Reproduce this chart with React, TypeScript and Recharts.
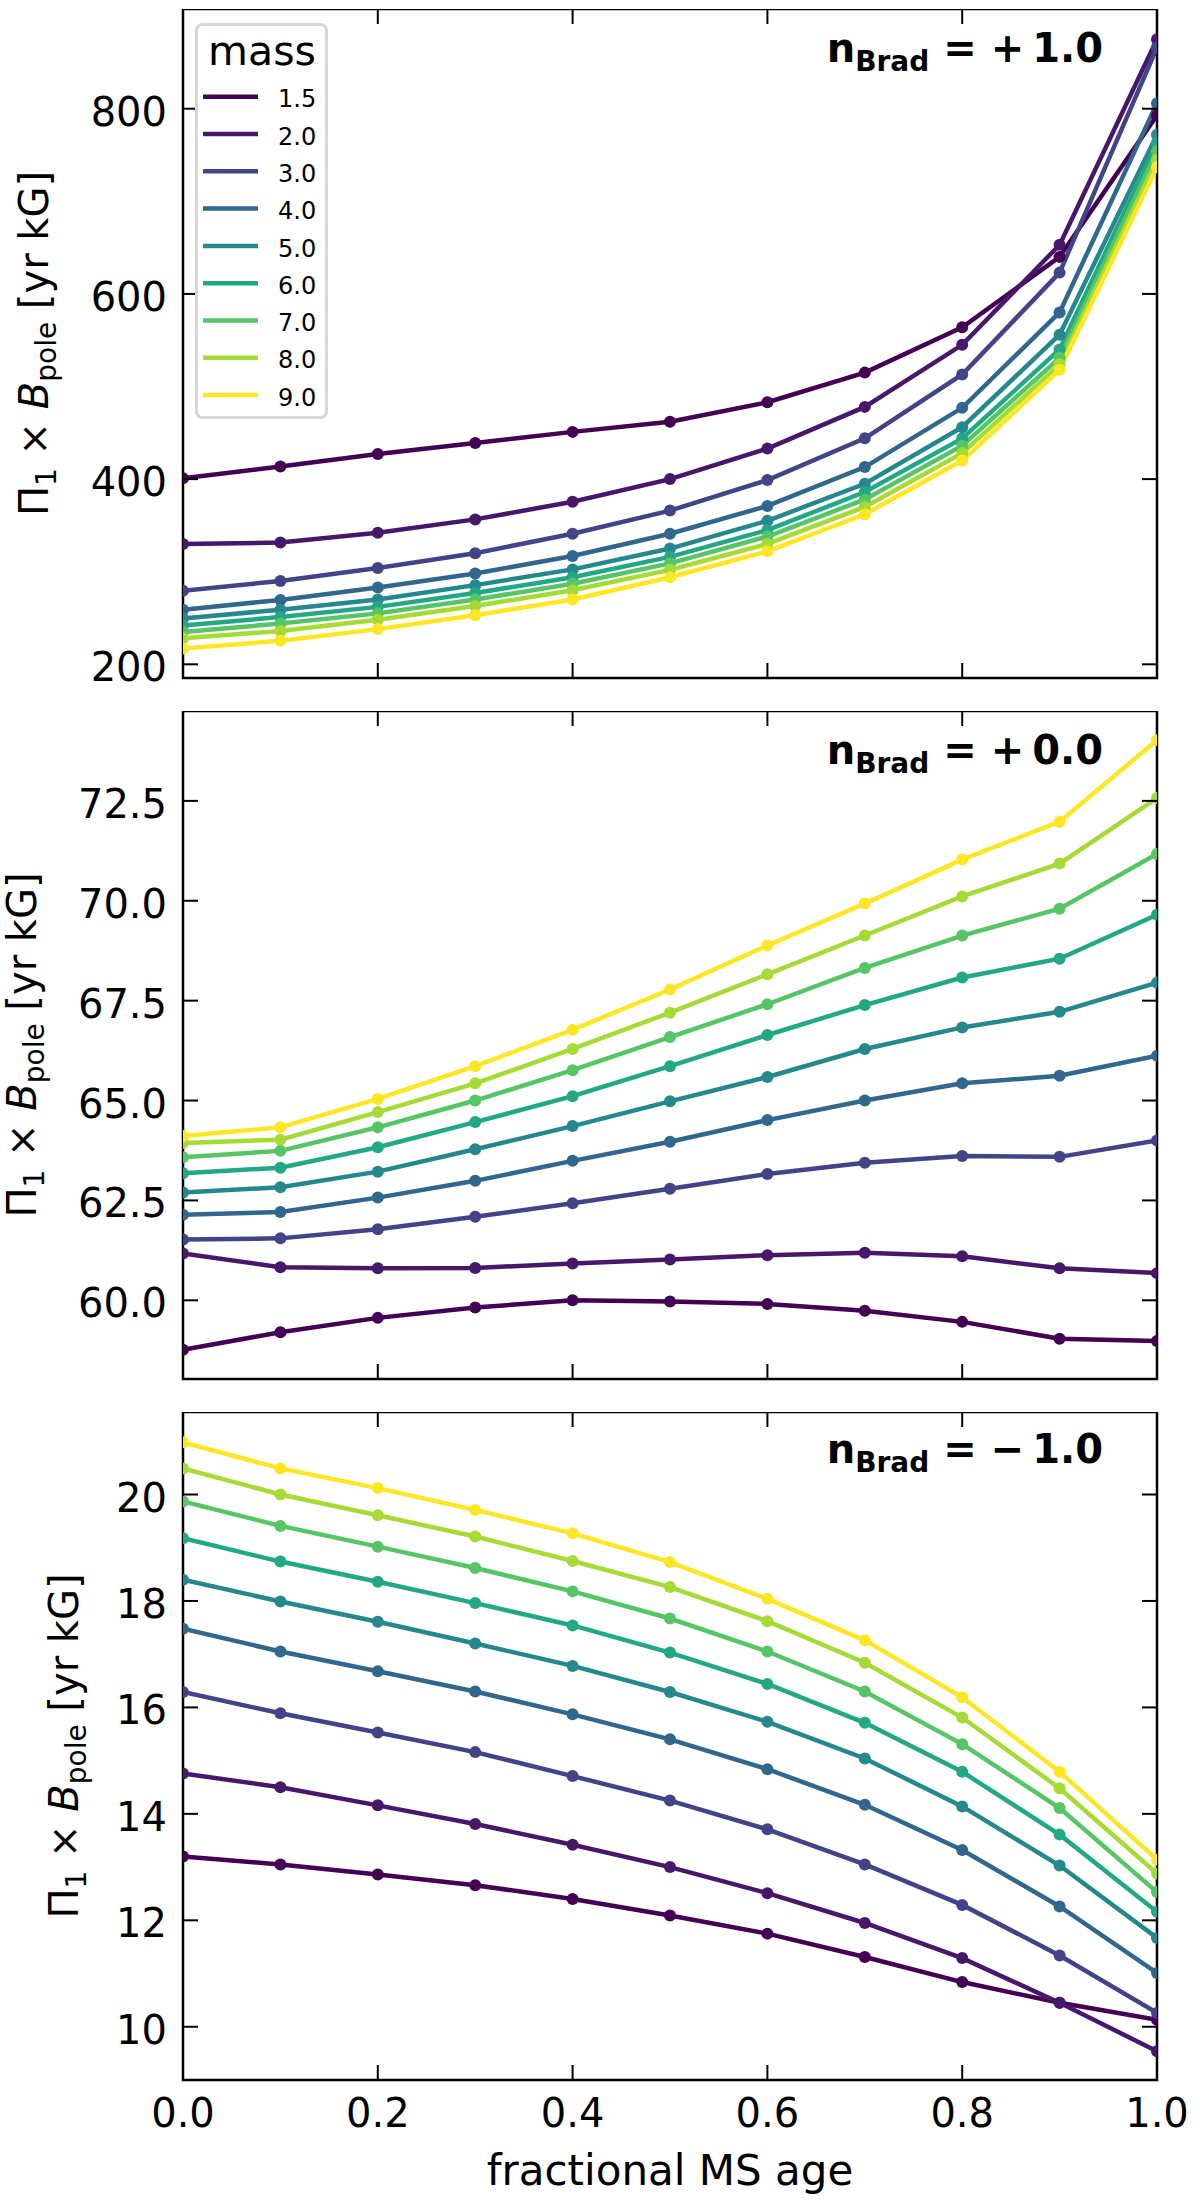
import React from "react";
import { LineChart, Line, XAxis, YAxis, ReferenceArea, Legend } from "recharts";

const FONT = "'DejaVu Sans', 'Liberation Sans', sans-serif";

// fractional MS age (x)
const AGES = [0, 0.1, 0.2, 0.3, 0.4, 0.5, 0.6, 0.7, 0.8, 0.9, 1.0];
const X_TICKS = [0, 0.2, 0.4, 0.6, 0.8, 1.0];

// stellar masses and their viridis colours
const MASSES = ["1.5", "2.0", "3.0", "4.0", "5.0", "6.0", "7.0", "8.0", "9.0"];
const MASS_COLORS = [
  "#440154",
  "#47186a",
  "#414487",
  "#31678d",
  "#24888d",
  "#22a884",
  "#56c566",
  "#a6da35",
  "#fde725",
];

// n_Brad = +1.0
const POS_VALUES = [
  [401, 413.5, 427, 439, 451, 462, 483, 515, 564, 640, 793],
  [330, 331.5, 342, 356.5, 375.5, 400, 433, 478, 545, 653, 875],
  [279.5, 290, 304, 320, 341, 366, 399, 444, 513, 623, 866],
  [259, 269.5, 283, 298, 317, 341, 371, 413, 477, 580, 806],
  [249.5, 259, 270, 285.5, 302.5, 325, 355, 395, 456, 556, 772],
  [242, 251, 262, 277, 294, 316, 345, 386, 444, 540, 763],
  [235, 244, 255, 270, 287, 309, 338, 378, 436, 531, 754],
  [228, 236, 248, 263, 280, 302, 330, 370, 428, 524, 745],
  [217, 225.5, 238, 253, 270, 294, 322, 362, 420, 518, 737],
];
const POS_DOMAIN: [number, number] = [185.2, 907.7];
const POS_Y_TICKS = [200, 400, 600, 800];

// n_Brad = +0.0
const ZERO_VALUES = [
  [58.76, 59.2, 59.56, 59.82, 60.0, 59.97, 59.91, 59.74, 59.46, 59.04, 58.98],
  [61.17, 60.83, 60.8, 60.81, 60.92, 61.02, 61.13, 61.19, 61.1, 60.8, 60.68],
  [61.52, 61.55, 61.78, 62.09, 62.43, 62.79, 63.16, 63.44, 63.61, 63.59, 64.0],
  [62.14, 62.21, 62.57, 62.99, 63.49, 63.97, 64.51, 65.0, 65.43, 65.62, 66.12],
  [62.7, 62.83, 63.22, 63.78, 64.36, 64.98, 65.59, 66.29, 66.83, 67.22, 67.95],
  [63.18, 63.32, 63.83, 64.46, 65.11, 65.86, 66.64, 67.39, 68.08, 68.55, 69.65],
  [63.58, 63.74, 64.33, 65.0, 65.76, 66.59, 67.41, 68.32, 69.13, 69.8, 71.17],
  [63.94, 64.02, 64.71, 65.43, 66.29, 67.2, 68.16, 69.13, 70.11, 70.93, 72.57],
  [64.11, 64.33, 65.04, 65.86, 66.77, 67.78, 68.88, 69.93, 71.03, 71.98, 74.02],
];
const ZERO_DOMAIN: [number, number] = [58.03, 74.75];
const ZERO_Y_TICKS = [60, 62.5, 65, 67.5, 70, 72.5];

// n_Brad = -1.0
const NEG_VALUES = [
  [13.2, 13.05, 12.86, 12.66, 12.4, 12.09, 11.75, 11.31, 10.84, 10.45, 10.13],
  [14.76, 14.5, 14.16, 13.81, 13.42, 13.0, 12.51, 11.95, 11.29, 10.45, 9.54],
  [16.29, 15.89, 15.53, 15.16, 14.71, 14.25, 13.71, 13.05, 12.29, 11.34, 10.26],
  [17.48, 17.05, 16.68, 16.3, 15.87, 15.4, 14.84, 14.17, 13.32, 12.26, 11.01],
  [18.4, 17.99, 17.61, 17.2, 16.78, 16.29, 15.73, 15.04, 14.14, 13.03, 11.67],
  [19.18, 18.74, 18.36, 17.96, 17.54, 17.03, 16.44, 15.71, 14.79, 13.61, 12.16],
  [19.87, 19.41, 19.02, 18.62, 18.18, 17.67, 17.05, 16.3, 15.31, 14.11, 12.53],
  [20.49, 20.0, 19.61, 19.21, 18.75, 18.26, 17.62, 16.84, 15.81, 14.48, 12.88],
  [20.98, 20.49, 20.12, 19.71, 19.27, 18.73, 18.04, 17.26, 16.19, 14.79, 13.14],
];
const NEG_DOMAIN: [number, number] = [9.0, 21.55];
const NEG_Y_TICKS = [10, 12, 14, 16, 18, 20];

const PLOT_LEFT = 183;
const PLOT_RIGHT = 1157;
const PLOT_W = PLOT_RIGHT - PLOT_LEFT;
const X_AXIS_H = 80;

function buildRows(series: number[][]) {
  return AGES.map((x, i) => {
    const row: Record<string, number> = { x };
    series.forEach((s, k) => {
      row[`m${k}`] = s[i];
    });
    return row;
  });
}

function renderLegend(props: any) {
  const payload = props.payload || [];
  return (
    <svg width={133} height={396} style={{ display: "block" }}>
      <rect
        x={1.5}
        y={1.5}
        width={130}
        height={393}
        rx={6}
        fill="rgba(255,255,255,0.8)"
        stroke="#d6d6d6"
        strokeWidth={3}
      />
      <text x={67} y={42} textAnchor="middle" fontSize={41} fontFamily={FONT} fill="#000">
        mass
      </text>
      {payload.map((p: any, i: number) => (
        <g key={p.value}>
          <line
            x1={8}
            x2={63}
            y1={73.7 + i * 37.3}
            y2={73.7 + i * 37.3}
            stroke={p.color}
            strokeWidth={4.5}
          />
          <text x={83} y={84.3 + i * 37.3} fontSize={24} fontFamily={FONT} fill="#000">
            {p.value}
          </text>
        </g>
      ))}
    </svg>
  );
}

interface PanelProps {
  top: number;
  height: number;
  series: number[][];
  domain: [number, number];
  yTicks: number[];
  yFmt: (v: number) => string;
  showXLabels?: boolean;
  showLegend?: boolean;
}

function Panel({ top, height, series, domain, yTicks, yFmt, showXLabels, showLegend }: PanelProps) {
  const rows = buildRows(series);

  const yTick = (props: any) => {
    const { x, y, payload } = props;
    return (
      <g>
        <line x1={x} x2={x + 15} y1={y} y2={y} stroke="#000" strokeWidth={2} />
        <line x1={x + PLOT_W} x2={x + PLOT_W - 15} y1={y} y2={y} stroke="#000" strokeWidth={2} />
        <text x={x - 16} y={y + 17} textAnchor="end" fontSize={40} fontFamily={FONT} fill="#000">
          {yFmt(payload.value)}
        </text>
      </g>
    );
  };

  const xTick = (props: any) => {
    const { x, y, payload } = props;
    return (
      <g>
        <line x1={x} x2={x} y1={y} y2={y - 15} stroke="#000" strokeWidth={2} />
        <line x1={x} x2={x} y1={y - height} y2={y - height + 15} stroke="#000" strokeWidth={2} />
        {showXLabels && (
          <text x={x} y={y + 47} textAnchor="middle" fontSize={40} fontFamily={FONT} fill="#000">
            {Number(payload.value).toFixed(1)}
          </text>
        )}
      </g>
    );
  };

  return (
    <div style={{ position: "absolute", left: 0, top }}>
      <LineChart
        width={1200}
        height={height + X_AXIS_H}
        data={rows}
        margin={{ top: 0, right: 1200 - PLOT_RIGHT, bottom: 0, left: 0 }}
      >
        <XAxis
          dataKey="x"
          type="number"
          domain={[0, 1]}
          ticks={X_TICKS}
          allowDataOverflow
          interval={0}
          tickSize={0}
          tickMargin={0}
          tickLine={false}
          axisLine={false}
          tick={xTick}
          height={X_AXIS_H}
        />
        <YAxis
          type="number"
          domain={domain}
          ticks={yTicks}
          allowDataOverflow
          interval={0}
          tickSize={0}
          tickMargin={0}
          tickLine={false}
          axisLine={false}
          tick={yTick}
          width={PLOT_LEFT}
        />
        {MASSES.map((m, k) => (
          <Line
            key={m}
            type="linear"
            dataKey={`m${k}`}
            name={m}
            stroke={MASS_COLORS[k]}
            strokeWidth={4.5}
            dot={{ r: 6, fill: MASS_COLORS[k], stroke: "none" }}
            activeDot={false}
            isAnimationActive={false}
          />
        ))}
        <ReferenceArea
          x1={0}
          x2={1}
          y1={domain[0]}
          y2={domain[1]}
          fill="none"
          fillOpacity={0}
          stroke="#000"
          strokeWidth={2.5}
          ifOverflow="visible"
        />
        {showLegend && (
          <Legend
            layout="vertical"
            align="center"
            verticalAlign="middle"
            content={renderLegend}
            wrapperStyle={{ left: 195, top: 14, width: 133, height: 396 }}
          />
        )}
      </LineChart>
    </div>
  );
}

function YLabel({ x, y }: { x: number; y: number }) {
  return (
    <text
      transform={`translate(${x},${y}) rotate(-90)`}
      textAnchor="middle"
      fontSize={40}
      fontFamily={FONT}
      fill="#000"
    >
      Π
      <tspan dy={8} fontSize={28}>
        1
      </tspan>
      <tspan dy={-8}> × </tspan>
      <tspan fontStyle="italic">B</tspan>
      <tspan dy={8} fontSize={28}>
        pole
      </tspan>
      <tspan dy={-8}> [yr kG]</tspan>
    </text>
  );
}

function NLabel({ y, value }: { y: number; value: string }) {
  return (
    <text x={1103} y={y} textAnchor="end" fontSize={40} fontWeight="bold" fontFamily={FONT} fill="#000">
      n
      <tspan dy={9} fontSize={28}>
        Brad
      </tspan>
      <tspan dy={-9}>{` = ${value}`}</tspan>
    </text>
  );
}

const P1 = { top: 9, height: 669 };
const P2 = { top: 711, height: 668 };
const P3 = { top: 1412, height: 668 };

export default function App() {
  return (
    <div style={{ position: "relative", width: 1200, height: 2208, background: "#fff", fontFamily: FONT }}>
      <style>{"body{margin:0;background:#fff}"}</style>
      <Panel
        top={P1.top}
        height={P1.height}
        series={POS_VALUES}
        domain={POS_DOMAIN}
        yTicks={POS_Y_TICKS}
        yFmt={(v) => String(v)}
        showLegend
      />
      <Panel
        top={P2.top}
        height={P2.height}
        series={ZERO_VALUES}
        domain={ZERO_DOMAIN}
        yTicks={ZERO_Y_TICKS}
        yFmt={(v) => v.toFixed(1)}
      />
      <Panel
        top={P3.top}
        height={P3.height}
        series={NEG_VALUES}
        domain={NEG_DOMAIN}
        yTicks={NEG_Y_TICKS}
        yFmt={(v) => String(v)}
        showXLabels
      />
      <svg
        width={1200}
        height={2208}
        style={{ position: "absolute", left: 0, top: 0, pointerEvents: "none" }}
      >
        <YLabel x={48} y={P1.top + P1.height / 2} />
        <YLabel x={36} y={P2.top + P2.height / 2} />
        <YLabel x={78} y={P3.top + P3.height / 2} />
        <NLabel y={P1.top + 53} value={"+\u20091.0"} />
        <NLabel y={P2.top + 53} value={"+\u20090.0"} />
        <NLabel y={P3.top + 51} value={"\u2212\u20091.0"} />
        <text x={670} y={2185} textAnchor="middle" fontSize={42} fontFamily={FONT} fill="#000">
          fractional MS age
        </text>
      </svg>
    </div>
  );
}
